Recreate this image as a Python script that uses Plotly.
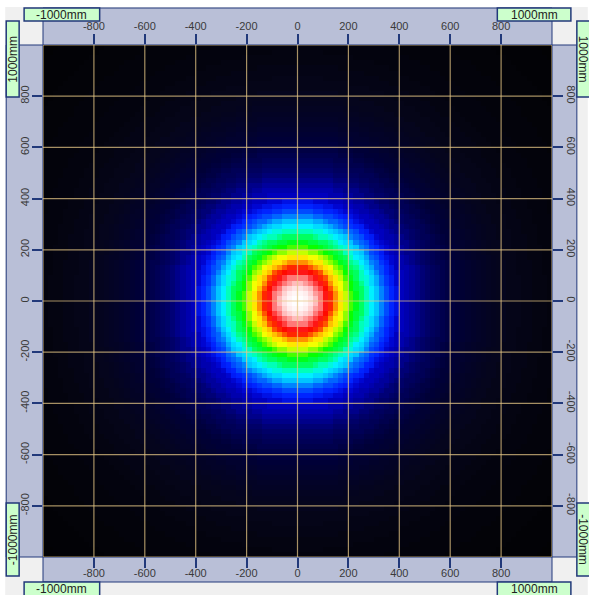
import numpy as np
import plotly.graph_objects as go

# ---- data -------------------------------------------------------------
# relative beam intensity against distance from the centre (mm)
profile_r_mm = [
    0, 10, 20, 30, 40, 50, 60, 70, 80, 90,
    100, 110, 120, 130, 140, 150, 160, 170, 180, 190,
    200, 210, 220, 230, 240, 250, 260, 270, 280, 290,
    300, 310, 320, 330, 340, 350, 360, 370, 380, 390,
    400, 420, 440, 460, 480, 500, 520, 540, 560, 580,
    600, 620, 640, 660, 680, 700, 720, 740, 760, 780,
    800, 850, 900, 950, 1000, 1100, 1200, 1300, 1420,
]
profile_value = [
    1.000, 0.998, 0.993, 0.985, 0.972, 0.955, 0.930, 0.895, 0.855, 0.810,
    0.765, 0.735, 0.712, 0.688, 0.662, 0.630, 0.600, 0.575, 0.555, 0.535,
    0.515, 0.497, 0.482, 0.468, 0.455, 0.440, 0.422, 0.403, 0.386, 0.370,
    0.356, 0.343, 0.330, 0.315, 0.302, 0.290, 0.280, 0.272, 0.265, 0.256,
    0.245, 0.232, 0.218, 0.203, 0.188, 0.172, 0.160, 0.148, 0.137, 0.126,
    0.115, 0.106, 0.097, 0.089, 0.081, 0.074, 0.067, 0.061, 0.055, 0.050,
    0.046, 0.037, 0.030, 0.024, 0.019, 0.012, 0.007, 0.003, 0.000,
]
cell_mm = 20
x_centres = list(range(-990, 1000, cell_mm))
y_centres = list(range(-990, 1000, cell_mm))
tick_vals = [-800, -600, -400, -200, 0, 200, 400, 600, 800]
tick_text = ["-800", "-600", "-400", "-200", "0", "200", "400", "600", "800"]
grid_vals = [-1000, -800, -600, -400, -200, 0, 200, 400, 600, 800, 1000]
edge_labels = {"min": "-1000mm", "max": "1000mm"}
axis_range = [-1000, 1000]

# ---- intensity map: each cell takes the profile entry nearest its radius ----
xx, yy = np.meshgrid(np.array(x_centres), np.array(y_centres))
rr = np.hypot(xx, yy)
r_tab = np.array(profile_r_mm, dtype=float)
v_tab = np.array(profile_value)
pos = np.clip(np.searchsorted(r_tab, rr), 1, len(r_tab) - 1)
nearest = np.where(rr - r_tab[pos - 1] < r_tab[pos] - rr, pos - 1, pos)
nearest[rr > r_tab[-1]] = len(r_tab) - 1
z = v_tab[nearest]

colorscale = [
    [0.00, "#020204"], [0.04, "#05051a"], [0.10, "#000038"], [0.16, "#000068"],
    [0.24, "#0000c8"], [0.27, "#0020ff"], [0.30, "#0060ff"], [0.34, "#00c0ff"],
    [0.37, "#00f0ff"], [0.40, "#00ffc0"], [0.44, "#00ff60"], [0.48, "#00ff00"],
    [0.52, "#a0ff00"], [0.56, "#ffff00"], [0.60, "#ffc000"], [0.64, "#ff8000"],
    [0.68, "#ff3000"], [0.72, "#ff0000"], [0.80, "#ff7070"], [0.90, "#ffc0c0"],
    [1.00, "#ffffff"],
]

# ---- page geometry (pixels) -------------------------------------------
FW, FH = 589, 595
L, T, W, H = 43, 45, 512, 512


def px(x):
    return (x - L) / W


def py(y):
    return (T + H - y) / H


NAVY = "#22397a"
RULER = "#b9bfd7"
CORNER = "#f0f0f0"
BOX = "#ccffcc"
GRID = "rgba(230,200,135,0.72)"
TEXT = "#3a3a3a"

fig = go.Figure()
fig.add_trace(go.Heatmap(
    x=x_centres, y=y_centres, z=z, zmin=0, zmax=1,
    colorscale=colorscale, showscale=False, zsmooth=False, hoverinfo="skip",
))
# invisible trace that carries the top / right rulers
fig.add_trace(go.Scatter(
    x=axis_range, y=axis_range, xaxis="x2", yaxis="y2", mode="markers",
    marker=dict(opacity=0), hoverinfo="skip", showlegend=False,
))

shapes = []
# widget background and rulers
shapes.append(dict(type="rect", xref="paper", yref="paper", x0=px(5), x1=px(FW + 2),
                   y0=py(7), y1=py(FH + 2), fillcolor=CORNER, line_width=0, layer="below"))
rulers = [
    (L, L + W, 8, T),            # top
    (L, L + W, T + H, 582),      # bottom
    (6, L, T, T + H),            # left
    (L + W, 580, T, T + H),      # right
]
for x0, x1, y0, y1 in rulers:
    shapes.append(dict(type="rect", xref="paper", yref="paper",
                       x0=px(x0), x1=px(x1), y0=py(y0), y1=py(y1),
                       fillcolor=RULER, line=dict(color=NAVY, width=1), layer="below"))

# grid drawn over the intensity map
for v in grid_vals:
    shapes.append(dict(type="line", xref="x", yref="y", x0=v, x1=v,
                       y0=axis_range[0], y1=axis_range[1],
                       line=dict(color=GRID, width=1.2), layer="above"))
    shapes.append(dict(type="line", xref="x", yref="y", y0=v, y1=v,
                       x0=axis_range[0], x1=axis_range[1],
                       line=dict(color=GRID, width=1.2), layer="above"))

# end-of-range label boxes
boxes = [
    # (x0, x1, y0, y1, text, angle)
    (24, 100, 8, 21, edge_labels["min"], 0),
    (500, 574, 8, 21, edge_labels["max"], 0),
    (24, 100, 582, 596, edge_labels["min"], 0),
    (500, 574, 582, 596, edge_labels["max"], 0),
    (6, 19, 21, 97, edge_labels["max"], -90),
    (6, 19, 503, 576, edge_labels["min"], -90),
    (580, 593, 21, 97, edge_labels["max"], 90),
    (580, 593, 503, 576, edge_labels["min"], 90),
]
annotations = []
for x0, x1, y0, y1, txt, ang in boxes:
    shapes.append(dict(type="rect", xref="paper", yref="paper",
                       x0=px(x0), x1=px(x1), y0=py(y0), y1=py(y1),
                       fillcolor=BOX, line=dict(color=NAVY, width=1.5), layer="above"))
    annotations.append(dict(xref="paper", yref="paper", x=px((x0 + x1) / 2),
                            y=py((y0 + y1) / 2), text=txt, textangle=ang,
                            showarrow=False, xanchor="center", yanchor="middle",
                            font=dict(family="Liberation Sans, Arial", size=12, color="#222222")))

tick_font = dict(family="Liberation Sans, Arial", size=11, color=TEXT)
axis_common = dict(range=axis_range, tickmode="array", tickvals=tick_vals, ticktext=tick_text,
                   ticks="outside", ticklen=10, tickwidth=2, tickcolor=NAVY,
                   showgrid=False, zeroline=False, showline=False, tickfont=tick_font,
                   fixedrange=True)

fig.update_layout(
    width=FW, height=FH,
    margin=dict(l=L, r=FW - L - W, t=T, b=FH - T - H, pad=0),
    paper_bgcolor="white", plot_bgcolor="black",
    xaxis=dict(**axis_common, side="bottom", anchor="y", ticklabelstandoff=-4),
    yaxis=dict(**axis_common, side="left", anchor="x", tickangle=-90, ticklabelstandoff=-1),
    xaxis2=dict(**axis_common, side="top", overlaying="x", anchor="y"),
    yaxis2=dict(**axis_common, side="right", overlaying="y", anchor="x", tickangle=90),
    shapes=shapes, annotations=annotations, showlegend=False,
)

fig.write_html("out.html")
